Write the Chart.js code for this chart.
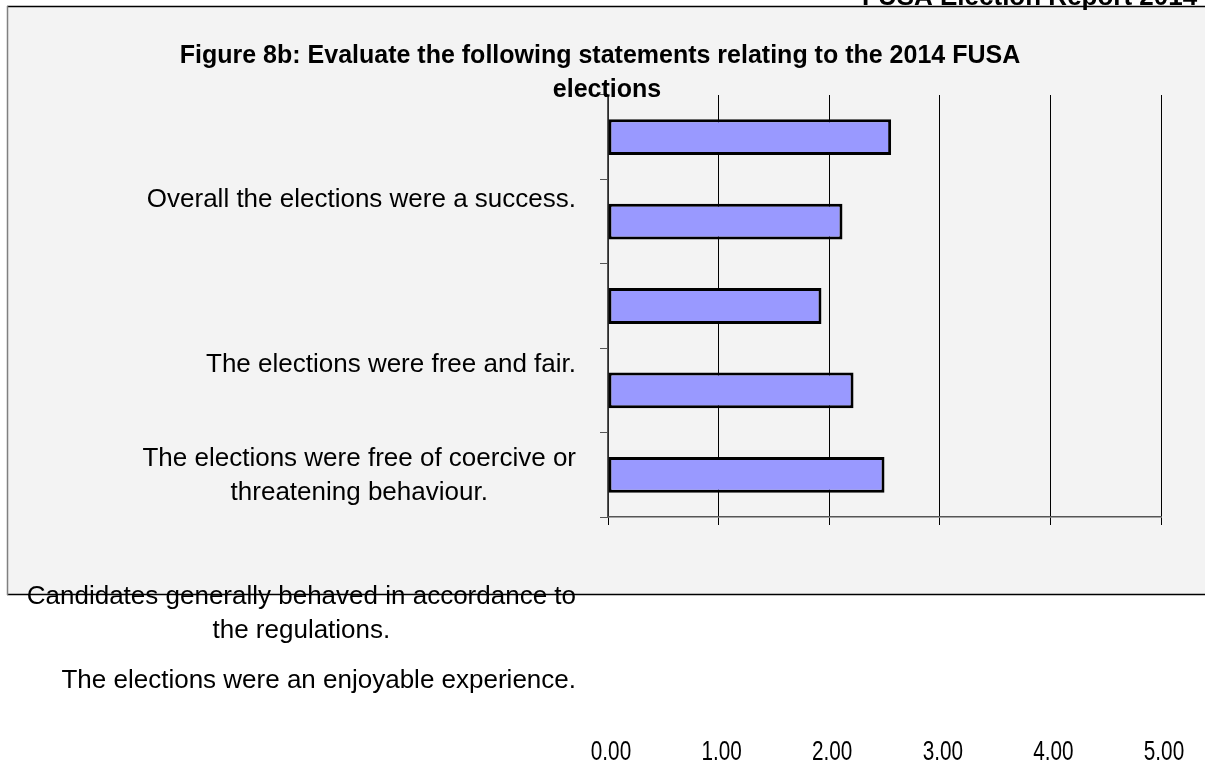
<!DOCTYPE html>
<html>
<head>
<meta charset="utf-8">
<script src="https://cdn.jsdelivr.net/npm/chart.js@4.4.0/dist/chart.umd.min.js"></script>
<style>
  html, body { margin: 0; padding: 0; background: #fff; }
  #myChart { display: block; }
</style>
</head>
<body>
<canvas id="myChart" width="1205" height="767"></canvas>
<script>
// statements, top to bottom as printed on the page
const statements = [
    ['Overall the elections were a success.'],
    ['The elections were free and fair.'],
    ['The elections were free of coercive or', 'threatening behaviour.'],
    ['Candidates generally behaved in accordance to', 'the regulations.'],
    ['The elections were an enjoyable experience.']
]
// mean score per bar, top to bottom
const scores = [2.56, 2.12, 1.93, 2.22, 2.50]
const scaleTicks = [0, 1, 2, 3, 4, 5]

const titleLines = ['Figure 8b: Evaluate the following statements relating to the 2014 FUSA', 'elections']
const headerText = 'FUSA Election Report 2014'

const FONT = "'Liberation Sans', Arial, sans-serif"

// where the (displaced) statement texts sit, first-line baselines
const labelBaselines = [207, 372, 466, 604, 688]
const labelLineGap = 34

const decor = {
    id: 'decor',
    beforeDraw(chart) {
        const ctx = chart.ctx
        ctx.save()
        ctx.fillStyle = '#ffffff'
        ctx.fillRect(0, 0, chart.width, chart.height)
        ctx.fillStyle = '#f3f3f3'
        ctx.fillRect(7, 6, chart.width - 7, 588)
        ctx.lineWidth = 1.5
        ctx.strokeStyle = '#000'
        ctx.beginPath()
        ctx.moveTo(7, 6.5); ctx.lineTo(chart.width, 6.5)
        ctx.moveTo(7, 594.5); ctx.lineTo(chart.width, 594.5)
        ctx.stroke()
        ctx.strokeStyle = '#808080'
        ctx.beginPath()
        ctx.moveTo(7.5, 6); ctx.lineTo(7.5, 595)
        ctx.stroke()
        ctx.restore()
    },
    afterDraw(chart) {
        const ctx = chart.ctx
        ctx.save()
        ctx.fillStyle = '#000'
        ctx.textBaseline = 'alphabetic'

        ctx.font = 'bold 26px ' + FONT
        ctx.textAlign = 'left'
        ctx.fillText(headerText, 862, 5)

        ctx.font = 'bold 25px ' + FONT
        ctx.textAlign = 'center'
        ctx.fillText(titleLines[0], 600, 63)
        ctx.fillText(titleLines[1], 607, 97)

        ctx.font = '26px ' + FONT
        statements.forEach((lines, i) => {
            let w = 0
            lines.forEach(l => { w = Math.max(w, ctx.measureText(l).width) })
            const cx = 576 - w / 2
            lines.forEach((l, j) => {
                ctx.fillText(l, cx, labelBaselines[i] + j * labelLineGap)
            })
        })

        // value axis labels, narrow like in the original
        const xs = chart.scales.x
        ctx.font = '28px ' + FONT
        ctx.textBaseline = 'middle'
        scaleTicks.forEach(v => {
            ctx.save()
            ctx.translate(xs.getPixelForValue(v) + 3, 752)
            ctx.scale(0.74, 1)
            ctx.fillText(v.toFixed(2), 0, 0)
            ctx.restore()
        })
        ctx.restore()
    }
}

const data = {
    labels: statements,
    datasets: [{
        data: scores,
        backgroundColor: '#9999ff',
        borderColor: '#000000',
        borderWidth: 3,
        borderSkipped: false,
        barPercentage: 0.53,
        categoryPercentage: 0.8
    }]
}

const config = {
    type: 'bar',
    data: data,
    options: {
        indexAxis: 'y',
        responsive: false,
        animation: false,
        devicePixelRatio: 1,
        layout: {
            padding: { left: 600, right: 44, top: 95, bottom: 0 }
        },
        plugins: {
            legend: { display: false },
            title: { display: false },
            tooltip: { enabled: false }
        },
        scales: {
            x: {
                min: 0,
                max: 5,
                afterBuildTicks: (axis) => {
                    axis.ticks = scaleTicks.map(v => ({ value: v }))
                },
                afterFit: (axis) => {
                    axis.height = 250
                    axis.paddingLeft = 0
                    axis.paddingRight = 0
                },
                ticks: { display: false },
                grid: {
                    color: '#000',
                    lineWidth: 1,
                    tickLength: 8
                },
                border: { color: '#555', width: 1.5 }
            },
            y: {
                afterFit: (axis) => {
                    axis.width = 8
                    axis.paddingTop = 0
                    axis.paddingBottom = 0
                },
                ticks: { display: false },
                grid: {
                    drawOnChartArea: false,
                    offset: true,
                    tickLength: 8,
                    color: '#555'
                },
                border: { color: '#555', width: 1.5 }
            }
        }
    },
    plugins: [decor]
}

const myChart = new Chart(document.getElementById('myChart'), config)
</script>
</body>
</html>
